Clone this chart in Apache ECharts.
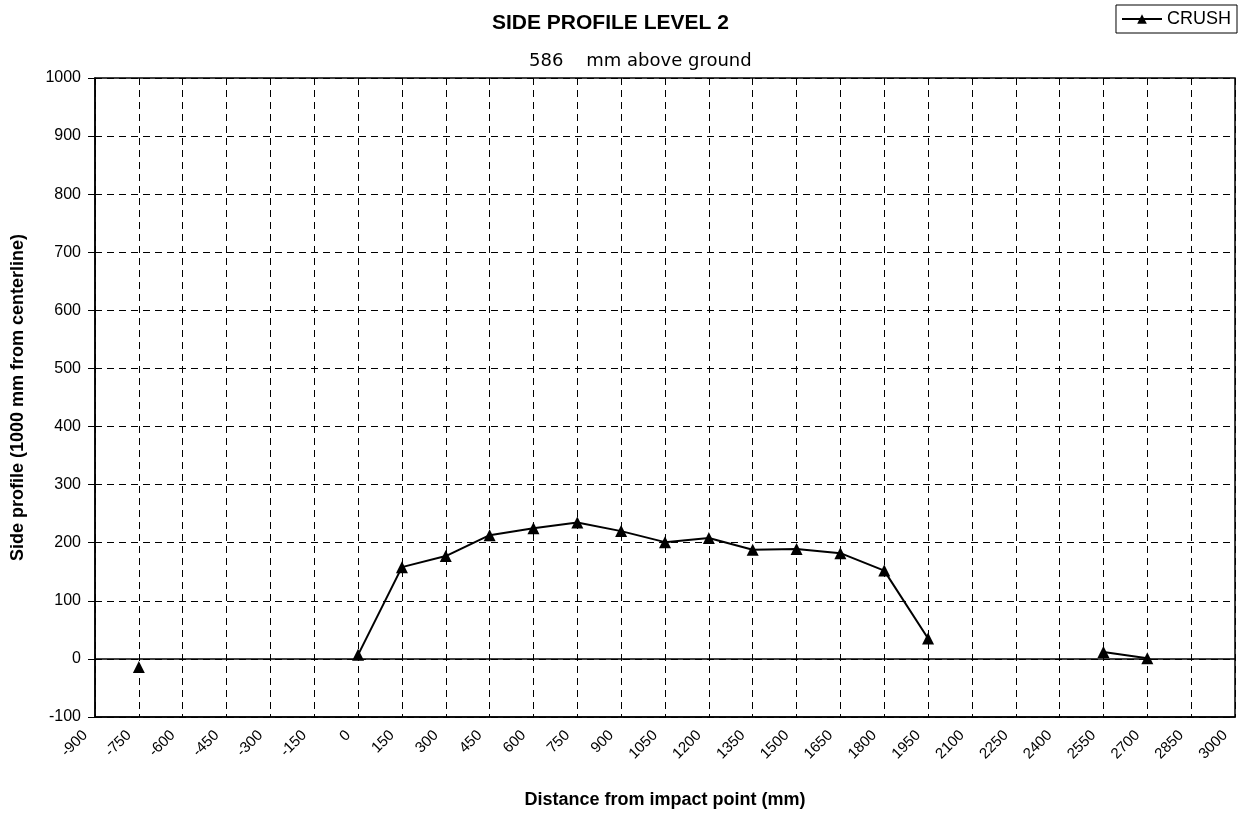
<!DOCTYPE html>
<html>
<head>
<meta charset="utf-8">
<script src="https://cdn.jsdelivr.net/npm/echarts@6/dist/echarts.min.js"></script>
<style>
html,body{margin:0;padding:0;background:#fff;}
#chart{width:1243px;height:814px;}
</style>
</head>
<body>
<div id="chart"></div>
<script>
// Data
const distances = [-750, -600, 0, 150, 300, 450, 600, 750, 900, 1050, 1200, 1350, 1500, 1650, 1800, 1950, 2100, 2550, 2700];
const crush     = [-14, null, 7, 158, 177, 213, 225, 235, 220, 201, 208, 188, 189, 182, 152, 35, null, 12, 1];
const titleText = 'SIDE PROFILE LEVEL 2';
const subtitleText = '586    mm above ground';
const seriesName = 'CRUSH';
const xMin = -900, xMax = 3000, xStep = 150;
const yMin = -100, yMax = 1000, yStep = 100;

const seriesData = distances.map((d, i) => [d, crush[i] === null ? '-' : crush[i]]);
const font = 'Liberation Sans, Arial, sans-serif';
const plain = v => String(v);

const chart = echarts.init(document.getElementById('chart'));
chart.setOption({
  backgroundColor: '#fff',
  animation: false,
  title: [
    { text: titleText, left: 487, top: 8,
      textStyle: { fontFamily: font, fontSize: 21, fontWeight: 'bold', color: '#000' } },
    { text: subtitleText, left: 524, top: 47,
      textStyle: { fontFamily: 'DejaVu Sans, sans-serif', fontSize: 18, fontWeight: 'normal', color: '#000' } }
  ],
  legend: {
    right: 6, top: 5,
    data: [seriesName],
    borderColor: '#000', borderWidth: 1, borderRadius: 0,
    padding: [5, 6, 5, 5],
    itemWidth: 40, itemHeight: 12, itemGap: 4,
    textStyle: { fontFamily: font, fontSize: 18, color: '#000' }
  },
  grid: { left: 95, right: 8, top: 78, bottom: 96, show: true, borderColor: '#000', borderWidth: 1.5 },
  xAxis: {
    type: 'value', min: xMin, max: xMax, interval: xStep,
    name: 'Distance from impact point (mm)',
    nameLocation: 'middle', nameGap: 74,
    nameTextStyle: { fontFamily: font, fontSize: 18, fontWeight: 'bold', color: '#000' },
    axisLine: { onZero: false, lineStyle: { color: '#000', width: 1.5 } },
    axisTick: { show: false },
    axisLabel: { rotate: 45, margin: 6, padding: [0, 14, 0, 0], fontFamily: font, fontSize: 15, color: '#000', formatter: plain },
    splitLine: { show: true, lineStyle: { color: '#000', type: [7, 5], width: 1 } }
  },
  yAxis: {
    type: 'value', min: yMin, max: yMax, interval: yStep,
    name: 'Side profile (1000 mm from centerline)',
    nameLocation: 'middle', nameGap: 68,
    nameTextStyle: { fontFamily: font, fontSize: 18, fontWeight: 'bold', color: '#000' },
    axisLine: { show: true, onZero: false, lineStyle: { color: '#000', width: 1.5 } },
    axisTick: { show: true, length: 7, lineStyle: { color: '#000' } },
    axisLabel: { margin: 14, fontFamily: font, fontSize: 16, color: '#000', formatter: plain },
    splitLine: { show: true, lineStyle: { color: '#000', type: [7, 5], width: 1 } }
  },
  series: [{
    name: seriesName,
    type: 'line',
    data: seriesData,
    connectNulls: false,
    symbol: 'triangle', symbolSize: 12,
    lineStyle: { color: '#000', width: 2 },
    itemStyle: { color: '#000' },
    markLine: {
      silent: true, symbol: 'none', label: { show: false },
      lineStyle: { color: '#000', type: 'solid', width: 1.5 },
      data: [{ yAxis: 0 }]
    }
  }]
});
</script>
</body>
</html>
